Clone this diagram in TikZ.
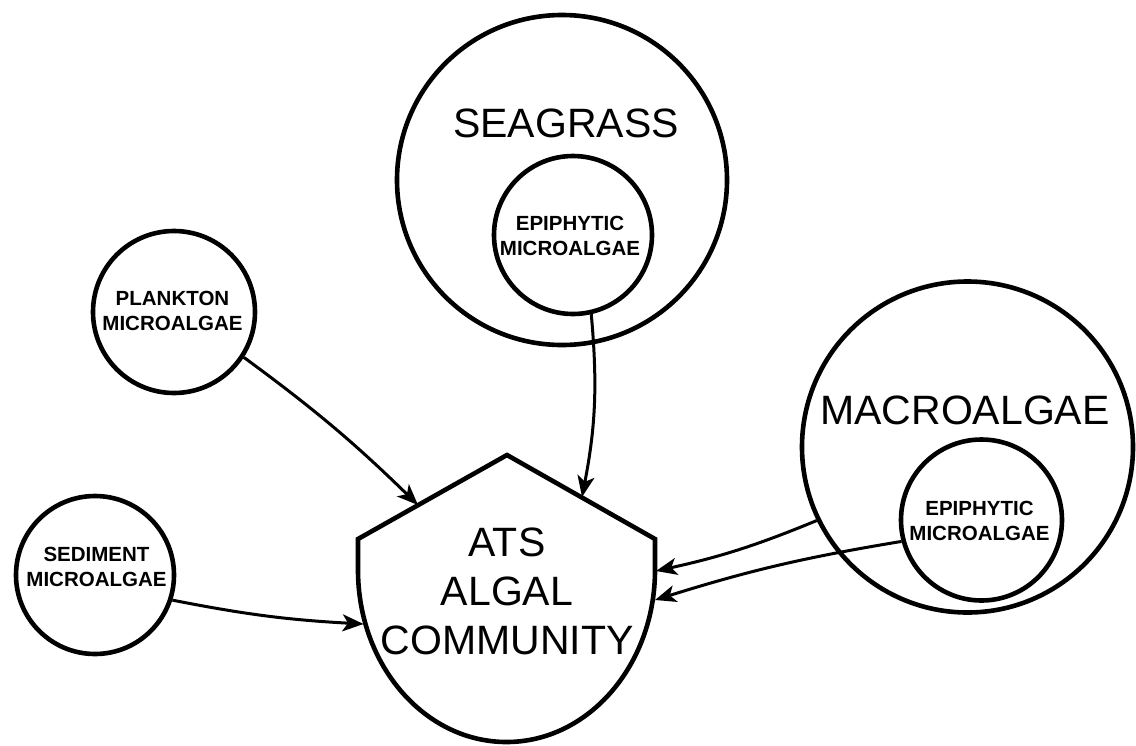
\documentclass[tikz,border=0pt]{standalone}
\usepackage{fontspec}
\setmainfont{Liberation Sans}
\usetikzlibrary{arrows.meta}
\begin{document}
\begin{tikzpicture}[x=1pt,y=-1pt,
  ring/.style={draw, circle, line width=4.6pt, inner sep=0pt},
  small/.style={font=\fontsize{20.5}{25}\selectfont\bfseries, align=center, inner sep=0pt},
  big/.style={font=\fontsize{41}{49}\selectfont, align=center, inner sep=0pt},
  arr/.style={line width=3pt, -{Stealth[length=21pt,width=17pt,inset=5.5pt]}}
]
\fill[white] (0,0) rectangle (1136,745);
\path[use as bounding box] (0,0) rectangle (1136,745);

% circles
\node[ring, minimum size=330pt] (seagrass) at (562,180) {};
\node[ring, minimum size=158pt] (sgepi) at (573,235) {};
\node[ring, minimum size=331pt] (macro) at (967.5,447) {};
\node[ring, minimum size=161pt] (mepi) at (981.5,520) {};
\node[ring, minimum size=162pt] (plankton) at (174,312) {};
\node[ring, minimum size=158pt] (sediment) at (95,575) {};

% ATS shape
\draw[line width=4.6pt, line join=miter]
  (358,570) -- (358,539) -- (507,455) -- (655,539) -- (655,570)
  arc[start angle=0, end angle=180, x radius=148.5, y radius=172] -- cycle;

% texts
\node[big] (seagrassT) at (566,123) {SEAGRASS};
\node[big] (macroT) at (965,410) {MACROALGAE};
\node[big] (atsT) at (507,591) {ATS\\ALGAL\\COMMUNITY};
\node[small] (sgepiT) at (570,236.3) {EPIPHYTIC\\MICROALGAE};
\node[small] (mepiT) at (979.5,520.5) {EPIPHYTIC\\MICROALGAE};
\node[small] (planktonT) at (172.5,310.5) {PLANKTON\\MICROALGAE};
\node[small] (sedimentT) at (96.5,567) {SEDIMENT\\MICROALGAE};

% arrow tips on the ATS outline
\coordinate (tipP) at (418,505);
\coordinate (tipS) at (582,497);
\coordinate (tipD) at (363.5,624);
\coordinate (tipM) at (656,571);
\coordinate (tipE) at (655,600);

% connectors
\draw[arr] (plankton.-33) to[bend left=4] (tipP);
\draw[arr] (sgepi.-77) to[bend left=8] (tipS);
\draw[arr] (sediment.-18) to[bend right=4] (tipD);
\draw[arr] (macro.206.5) to[bend left=5] (tipM);
\draw[arr] (mepi.195.4) to[bend right=4] (tipE);
\end{tikzpicture}
\end{document}
